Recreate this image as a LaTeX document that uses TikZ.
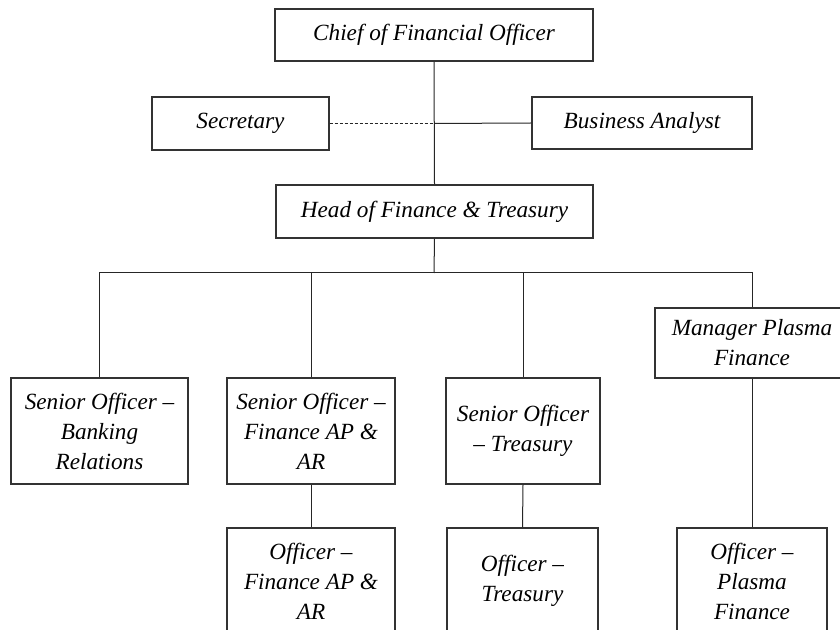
\documentclass[tikz,border=0pt]{standalone}
\usepackage{fontspec}
\setmainfont{Liberation Serif}
\usepackage{tikz}
\usetikzlibrary{calc}

\begin{document}
\begin{tikzpicture}[x={(0.5pt,0pt)}, y={(0pt,-0.5pt)},
  post/.style={draw=black!80, line width=0.6pt, inner sep=0pt, align=center,
    font=\fontsize{11.6}{15}\selectfont\itshape},
  link/.style={line width=0.5pt, draw=black!85}]
\useasboundingbox (0,0) rectangle (840,630);
\clip (0,0) rectangle (840,630);
%top level
\node[post, minimum width=159pt, minimum height=26pt] (cfo) at (434,35) {Chief of Financial Officer};
\node[post, minimum width=88.5pt, minimum height=26.5pt] (sec) at (240.5,123.5) {Secretary};
\node[post, minimum width=110pt, minimum height=26pt] (ba) at (642,123) {Business Analyst};
\node[post, minimum width=158.5pt, minimum height=26.5pt] (head) at (434.5,211.5) {Head of Finance \& Treasury};
%senior officers
\node[post, minimum width=88.5pt, minimum height=53pt] (bank) at (99.5,431) {Senior Officer --\\Banking\\Relations};
\node[post, minimum width=84pt, minimum height=53pt] (finap) at (311,431) {Senior Officer --\\Finance AP \&\\AR};
\node[post, minimum width=77pt, minimum height=53pt] (treas) at (523,431) {Senior Officer\\-- Treasury};
\node[post, minimum width=97pt, minimum height=35pt] (mgr) at (752,343) {Manager Plasma\\Finance};
%officers
\node[post, minimum width=84pt, minimum height=53pt] (offinap) at (311,581) {Officer --\\Finance AP \&\\AR};
\node[post, minimum width=75.5pt, minimum height=53pt] (oftreas) at (522.5,581) {Officer --\\Treasury};
\node[post, minimum width=75pt, minimum height=53pt] (ofplasma) at (752,581) {Officer --\\Plasma\\Finance};
%links
\coordinate (staff) at (cfo.south |- sec.east);
\coordinate (bus) at (434,273);
\draw[link] (cfo.south) -- (head.north);
\draw[link, dash pattern=on 1.5pt off 1pt] (sec.east) -- (staff);
\draw[link] (staff) -- (ba.west);
\draw[link] (head.south) -- (bus);
\foreach \n in {bank,finap,treas,mgr}{
\draw[link] (bus) -| (\n.north);
}
\draw[link] (finap.south) -- (offinap.north);
\draw[link] (treas.south) -- (oftreas.north);
\draw[link] (mgr.south) -- (ofplasma.north);
\end{tikzpicture}
\end{document}
